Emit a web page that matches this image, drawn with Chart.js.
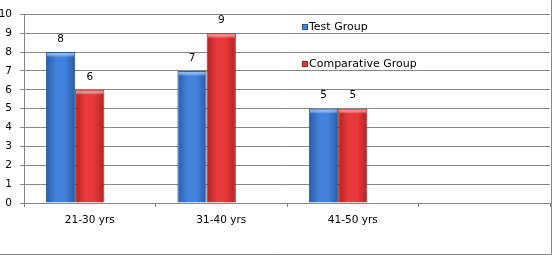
<!DOCTYPE html>
<html>
<head>
<meta charset="utf-8">
<script src="https://cdn.jsdelivr.net/npm/chart.js@4/dist/chart.umd.min.js"></script>
<style>
  html, body { margin: 0; padding: 0; background: #fff; }
  #wrap { width: 552px; height: 255px; position: relative; }
</style>
</head>
<body>
<div id="wrap"><canvas id="bar_Age"></canvas></div>
<script>
// data
const categories = ["21-30 yrs", "31-40 yrs", "41-50 yrs", ""];
const testGroup = [8, 7, 5];
const comparativeGroup = [6, 9, 5];
const yTicks = [0, 1, 2, 3, 4, 5, 6, 7, 8, 9, 10];

const FONT = "'DejaVu Sans', Verdana, sans-serif";
const GRID = "#878787";

const palette = {
    "Test Group": { mid: "#4382dc", edge: "#2a5ca8", top: "#8ab8f2", line: "#2d5a96" },
    "Comparative Group": { mid: "#e83a3a", edge: "#b42222", top: "#f49090", line: "#962424" }
};

// per-bar horizontal shading, built when the bars are drawn
const shading = {
    id: "shading",
    beforeDatasetsDraw(chart) {
        const ctx = chart.ctx;
        chart.data.datasets.forEach((ds, i) => {
            const p = palette[ds.label];
            if (!p) return;
            chart.getDatasetMeta(i).data.forEach(el => {
                const g = ctx.createLinearGradient(el.x - el.width / 2, 0, el.x + el.width / 2, 0);
                g.addColorStop(0, p.edge);
                g.addColorStop(0.35, p.mid);
                g.addColorStop(0.65, p.mid);
                g.addColorStop(1, p.edge);
                el.options.backgroundColor = g;
            });
        });
    },
    afterDatasetsDraw(chart) {
        const ctx = chart.ctx;
        ctx.save();
        chart.data.datasets.forEach((ds, i) => {
            const p = palette[ds.label];
            if (!p) return;
            chart.getDatasetMeta(i).data.forEach((el, j) => {
                const l = el.x - el.width / 2;
                // bevel on top of the bar
                const g = ctx.createLinearGradient(0, el.y + 1, 0, el.y + 5);
                g.addColorStop(0, p.top);
                g.addColorStop(1, "rgba(255,255,255,0)");
                ctx.fillStyle = g;
                ctx.fillRect(l + 1, el.y + 1, el.width - 2, 4);
                // value label
                ctx.fillStyle = "#000";
                ctx.font = "10.5px " + FONT;
                ctx.textAlign = "center";
                ctx.textBaseline = "middle";
                ctx.fillText(String(ds.data[j]), el.x, el.y - 13);
            });
        });
        ctx.restore();
    }
};

// legend sits inside the plot, on the right
const innerLegend = {
    id: "innerLegend",
    afterDraw(chart) {
        const ctx = chart.ctx;
        const y = chart.scales.y;
        const x0 = 302;
        const rows = [9.33, 7.39];
        ctx.save();
        ctx.font = "11px " + FONT;
        ctx.textBaseline = "middle";
        ctx.textAlign = "left";
        chart.data.datasets.forEach((ds, i) => {
            const p = palette[ds.label];
            if (!p) return;
            const cy = Math.round(y.getPixelForValue(rows[i]));
            ctx.fillStyle = p.mid;
            ctx.fillRect(x0, cy - 3, 6, 6);
            ctx.strokeStyle = p.line;
            ctx.lineWidth = 1;
            ctx.strokeRect(x0 + 0.5, cy - 2.5, 5, 5);
            ctx.fillStyle = "#000";
            ctx.fillText(ds.label, x0 + 7, cy);
        });
        // outer frame (right and bottom edges visible)
        ctx.strokeStyle = GRID;
        ctx.beginPath();
        ctx.moveTo(551.5, 0);
        ctx.lineTo(551.5, 254.5);
        ctx.lineTo(0, 254.5);
        ctx.stroke();
        ctx.restore();
    }
};

const config_Age = {
    type: "bar",
    data: {
        labels: categories,
        datasets: [
            {
                label: "Test Group",
                data: testGroup,
                backgroundColor: () => palette["Test Group"].mid,
                borderColor: palette["Test Group"].line,
                borderWidth: 1
            },
            {
                label: "Comparative Group",
                data: comparativeGroup,
                backgroundColor: () => palette["Comparative Group"].mid,
                borderColor: palette["Comparative Group"].line,
                borderWidth: 1
            },
            {
                label: "",
                data: [null, null, null]
            }
        ]
    },
    options: {
        responsive: true,
        maintainAspectRatio: false,
        animation: false,
        categoryPercentage: 0.667,
        barPercentage: 1.0,
        layout: { padding: { top: 14, right: 2, left: 0, bottom: 0 } },
        plugins: {
            legend: { display: false },
            tooltip: { enabled: false }
        },
        scales: {
            x: {
                grid: {
                    offset: true,
                    drawOnChartArea: false,
                    tickLength: 4,
                    color: GRID
                },
                border: { color: GRID },
                ticks: {
                    color: "#000",
                    font: { family: FONT, size: 10.5 },
                    padding: 7,
                    maxRotation: 0,
                    autoSkip: false
                },
                afterFit(scale) { scale.height = 52; }
            },
            y: {
                min: 0,
                max: 10,
                afterBuildTicks(scale) { scale.ticks = yTicks.map(v => ({ value: v })); },
                grid: { color: GRID, tickLength: 4 },
                border: { color: GRID },
                ticks: {
                    color: "#000",
                    font: { family: FONT, size: 10.5 },
                    padding: 8
                },
                afterFit(scale) { scale.width = 24; }
            }
        }
    },
    plugins: [shading, innerLegend]
};

const ctx_Age = document.getElementById("bar_Age").getContext("2d");
const myChart_Age = new Chart(ctx_Age, config_Age);
</script>
</body>
</html>
